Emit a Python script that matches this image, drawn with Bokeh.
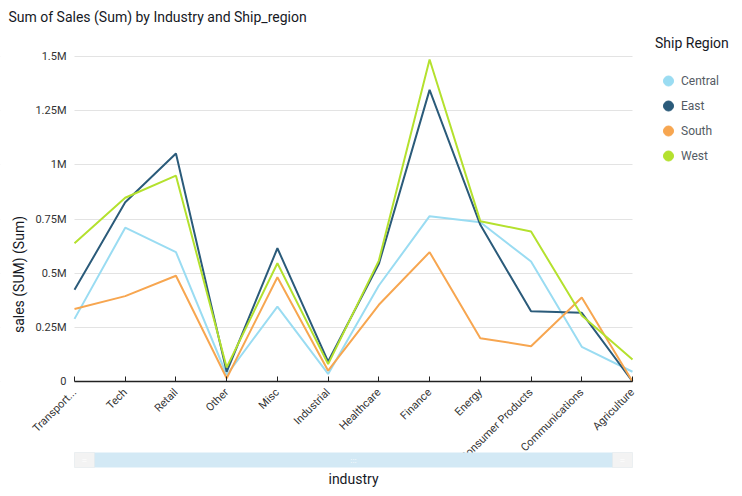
import math
from bokeh.plotting import figure
from bokeh.models import (Range1d, FixedTicker, Legend, LegendItem, ColumnDataSource,
                          BoxAnnotation, Label)
from bokeh.embed import file_html
from bokeh.resources import INLINE

# ---------------- data ----------------
industries = ["Transportation", "Tech", "Retail", "Other", "Misc", "Industrial",
              "Healthcare", "Finance", "Energy", "Consumer Products",
              "Communications", "Agriculture"]
tick_labels = ["Transport...", "Tech", "Retail", "Other", "Misc", "Industrial",
               "Healthcare", "Finance", "Energy", "Consumer Products",
               "Communications", "Agriculture"]
regions = ["Central", "East", "South", "West"]
central = [289000, 710000, 597000, 30000, 346000, 35000, 443000, 763000, 735000, 554000, 160000, 45000]
east    = [423000, 827000, 1052000, 45000, 615000, 92000, 543000, 1346000, 723000, 324000, 317000, 0]
south   = [335000, 394000, 488000, 15000, 481000, 50000, 354000, 597000, 200000, 163000, 388000, 0]
west    = [638000, 848000, 950000, 65000, 546000, 80000, 558000, 1486000, 740000, 692000, 305000, 102000]
y_ticks = [0, 250000, 500000, 750000, 1000000, 1250000, 1500000]
y_tick_labels = ["0", "0.25M", "0.5M", "0.75M", "1M", "1.25M", "1.5M"]
colors = ["#9adcf2", "#2b5b7a", "#f7a650", "#b4e12e"]

FONT = "Roboto"
W, H = 742, 496
FL, FR, FT, FB = 74, 632, 56, 381   # where the plotted values span (pixels)
FRAME_TOP, FRAME_BOTTOM = 30, 492   # drawing area reaches around it

x = list(range(len(industries)))
series = [central, east, south, west]
x_last = len(industries) - 1

px_x = x_last / (FR - FL)
px_y = (y_ticks[-1] - y_ticks[0]) / (FB - FT)

p = figure(width=W, height=H, output_backend="svg", toolbar_location=None,
           x_range=Range1d(-FL * px_x, x_last + (W - FR) * px_x),
           y_range=Range1d(-(FRAME_BOTTOM - FB) * px_y, y_ticks[-1] + (FT - FRAME_TOP) * px_y),
           min_border_left=0, min_border_right=0, min_border_top=FRAME_TOP,
           min_border_bottom=H - FRAME_BOTTOM)
p.outline_line_color = None
p.background_fill_color = "white"
p.border_fill_color = "white"

# title
p.title.text = "Sum of Sales (Sum) by Industry and Ship_region"
p.title.text_font = FONT
p.title.text_font_size = "14px"
p.title.text_font_style = "normal"
p.title.text_color = "#16191f"
p.title.align = "left"
p.title.offset = 8
p.title.standoff = 12

# grid (masked outside the category span)
p.xgrid.grid_line_color = None
p.ygrid.grid_line_color = "#e3e3e3"
p.ygrid.grid_line_width = 1
p.add_layout(BoxAnnotation(left=x_last, fill_color="white", fill_alpha=1,
                           line_color=None, level="underlay"))
p.add_layout(BoxAnnotation(right=0, fill_color="white", fill_alpha=1,
                           line_color=None, level="underlay"))

# y axis (on the first category)
p.yaxis.fixed_location = 0
p.yaxis.ticker = FixedTicker(ticks=y_ticks)
p.yaxis.major_label_overrides = {t: l for t, l in zip(y_ticks, y_tick_labels)}
p.yaxis.axis_line_color = None
p.yaxis.major_tick_line_color = None
p.yaxis.minor_tick_line_color = None
p.yaxis.major_tick_out = 0
p.yaxis.major_tick_in = 0
p.yaxis.major_label_standoff = 8
p.yaxis.major_label_text_font = FONT
p.yaxis.major_label_text_font_size = "11px"
p.yaxis.major_label_text_color = "#333333"

# y axis title
p.add_layout(Label(x=-(FL - 18) * px_x, y=(FB - 274) * px_y, angle=math.pi / 2,
                   text="sales (SUM) (Sum)", text_align="center", text_baseline="middle",
                   text_font=FONT, text_font_size="14px", text_color="#16191f"))

# x axis (on the zero line)
p.xaxis.fixed_location = 0
p.xaxis.bounds = (0, x_last)
p.xaxis.ticker = FixedTicker(ticks=x)
p.xaxis.major_label_overrides = {i: l for i, l in zip(x, tick_labels)}
p.xaxis.major_label_orientation = math.pi / 4
p.xaxis.axis_line_color = "#222222"
p.xaxis.axis_line_width = 1.5
p.xaxis.major_tick_line_color = "#222222"
p.xaxis.major_tick_in = 5
p.xaxis.major_tick_out = 0
p.xaxis.minor_tick_line_color = None
p.xaxis.major_label_standoff = 9
p.xaxis.major_label_text_font = FONT
p.xaxis.major_label_text_font_size = "11px"
p.xaxis.major_label_text_color = "#333333"

# scrollbar (decoration under the axis labels)
bar_top, bar_bot = -(452 - FB) * px_y, -(467 - FB) * px_y
p.add_layout(BoxAnnotation(left=0, right=x_last, top=bar_top, bottom=bar_bot,
                           fill_color="#d3e9f5", fill_alpha=1, line_color=None, level="overlay"))
for l0 in (0, (FR - FL - 20) * px_x):
    p.add_layout(BoxAnnotation(left=l0, right=l0 + 20 * px_x, top=bar_top, bottom=bar_bot,
                               fill_color="#f3f3f3", fill_alpha=1, line_color="#e6e6e6",
                               line_width=1, level="overlay"))
    p.add_layout(Label(x=l0 + 10 * px_x, y=(bar_top + bar_bot) / 2, text="=",
                       text_align="center", text_baseline="middle", text_color="white",
                       text_font_size="9px", level="overlay"))
p.add_layout(Label(x=x_last / 2, y=(bar_top + bar_bot) / 2, text=":::",
                   text_align="center", text_baseline="middle", text_color="white",
                   text_font_size="8px", level="overlay"))

# x axis title below the scrollbar
p.add_layout(Label(x=x_last / 2, y=-(478 - FB) * px_y, text="industry",
                   text_align="center", text_baseline="middle", text_font=FONT,
                   text_font_size="14px", text_color="#16191f", level="overlay"))

# lines
items = []
for name, ys, c in zip(regions, series, colors):
    src = ColumnDataSource(dict(x=x, y=ys))
    p.line("x", "y", source=src, line_color=c, line_width=2)
    key = p.scatter("x", "y", source=src, size=10, marker="circle",
                    fill_color=c, line_color=c, visible=False)
    items.append(LegendItem(label=name, renderers=[key]))

legend = Legend(items=items, title="Ship Region", location="top_right")
legend.border_line_color = None
legend.background_fill_alpha = 0
legend.title_text_font = FONT
legend.title_text_font_size = "14px"
legend.title_text_font_style = "normal"
legend.title_text_color = "#16191f"
legend.title_standoff = 17
legend.label_text_font = FONT
legend.label_text_font_size = "12px"
legend.label_text_color = "#545b64"
legend.glyph_width = 26
legend.glyph_height = 25
legend.spacing = 0
legend.label_standoff = -6
legend.label_width = 56
legend.padding = 10
legend.margin = 5
legend.inactive_fill_alpha = 0
p.add_layout(legend, "center")

html = file_html(p, INLINE)
open("out.html", "w").write(html)
